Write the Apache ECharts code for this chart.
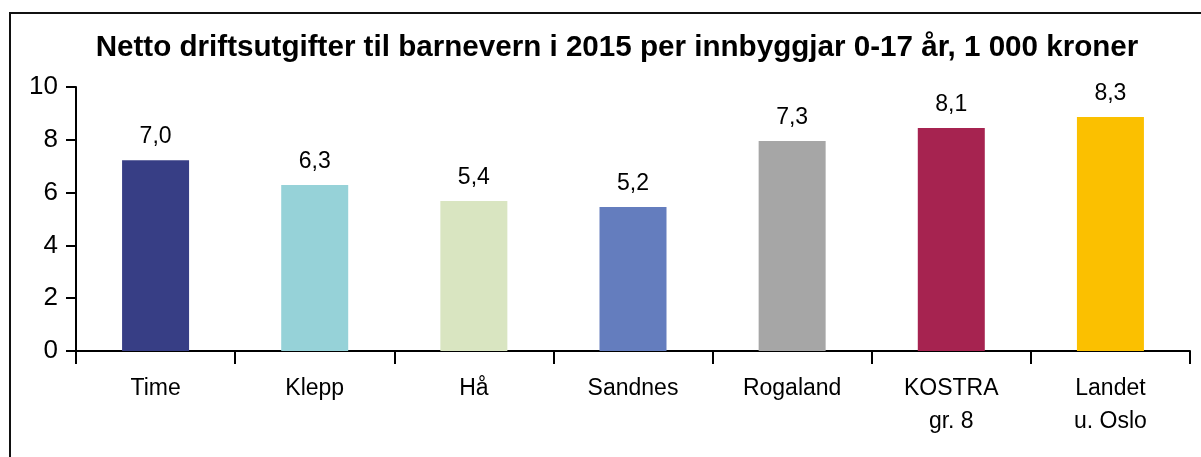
<!DOCTYPE html>
<html>
<head>
<meta charset="utf-8">
<title>Netto driftsutgifter til barnevern</title>
<script src="https://cdn.jsdelivr.net/npm/echarts@6/dist/echarts.min.js"></script>
<style>
    html, body {
        margin: 0;
        padding: 0;
        background: #fff;
    }
    #chart {
        width: 1201px;
        height: 457px;
    }
</style>
</head>
<body>
<div id="chart"></div>
<script>
// kategoriar langs x-aksen
const categories = ['Time', 'Klepp', 'Hå', 'Sandnes', 'Rogaland', 'KOSTRA\ngr. 8', 'Landet\nu. Oslo']
// søylehøgder slik dei er teikna i figuren
const barValues = [7.23, 6.29, 5.68, 5.45, 7.95, 8.45, 8.86]
// verdietikettar som står over søylene
const valueLabels = ['7,0', '6,3', '5,4', '5,2', '7,3', '8,1', '8,3']
const barColors = ['#373e85', '#96d2d8', '#d9e5c1', '#647dbe', '#a6a6a6', '#a62350', '#fbc000']
const yTicks = [0, 2, 4, 6, 8, 10]

const FONT = '"Liberation Sans", Arial, sans-serif'

const chart = echarts.init(document.getElementById('chart'))

const option = {
    animation: false,
    backgroundColor: '#fff',
    title: {
        text: 'Netto driftsutgifter til barnevern i 2015 per innbyggjar 0-17 år, 1 000 kroner',
        left: 612,
        top: 28,
        textAlign: 'center',
        textStyle: {
            fontFamily: FONT,
            fontSize: 29.6,
            fontWeight: 'bold',
            color: '#000'
        }
    },
    graphic: [{
        type: 'rect',
        shape: { x: 10, y: 13, width: 1200, height: 460 },
        style: { fill: 'none', stroke: '#111', lineWidth: 2 },
        silent: true
    }],
    grid: {
        left: 76,
        right: 11,
        top: 87,
        bottom: 106
    },
    xAxis: {
        type: 'category',
        data: categories,
        boundaryGap: true,
        axisLine: {
            lineStyle: { color: '#000', width: 2 }
        },
        axisTick: {
            show: true,
            length: 13,
            interval: 0,
            lineStyle: { color: '#000', width: 2 }
        },
        axisLabel: {
            margin: 21,
            fontFamily: FONT,
            fontSize: 23,
            lineHeight: 33,
            color: '#000',
            interval: 0
        }
    },
    yAxis: {
        type: 'value',
        min: yTicks[0],
        max: yTicks[yTicks.length - 1],
        interval: 2,
        splitLine: { show: false },
        axisLine: {
            show: true,
            lineStyle: { color: '#000', width: 2 }
        },
        axisTick: {
            show: true,
            length: 10,
            lineStyle: { color: '#000', width: 2 }
        },
        axisLabel: {
            margin: 18,
            fontFamily: FONT,
            fontSize: 26,
            color: '#000'
        }
    },
    series: [{
        type: 'bar',
        barWidth: 67,
        data: barValues.map((v, i) => ({
            value: v,
            itemStyle: { color: barColors[i] }
        })),
        label: {
            show: true,
            position: 'top',
            distance: 12,
            fontFamily: FONT,
            fontSize: 23,
            color: '#000',
            formatter: p => valueLabels[p.dataIndex]
        }
    }]
}

chart.setOption(option)
</script>
</body>
</html>
